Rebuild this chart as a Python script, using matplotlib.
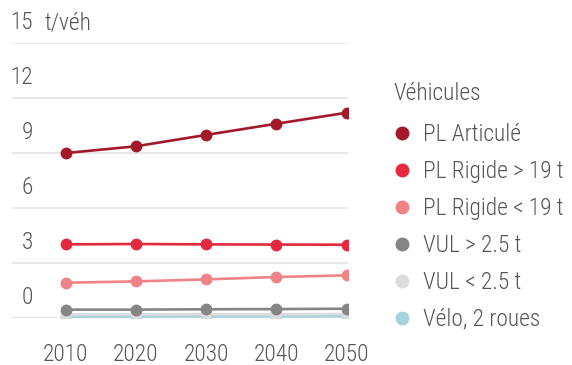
import matplotlib.pyplot as plt
import matplotlib.transforms as mtransforms
from matplotlib.lines import Line2D

plt.rcParams['font.family'] = ['Roboto Condensed', 'DejaVu Sans']
plt.rcParams['font.weight'] = 'light'

# données : poids moyen transporté par véhicule
annees = [2010, 2020, 2030, 2040, 2050]
pl_articule = [8.98, 9.35, 9.97, 10.58, 11.18]
pl_rigide_sup19 = [4.00, 4.02, 4.00, 3.99, 3.98]
pl_rigide_inf19 = [1.91, 1.98, 2.09, 2.22, 2.31]
vul_sup25 = [0.44, 0.44, 0.46, 0.47, 0.49]
vul_inf25 = [0.18, 0.18, 0.19, 0.19, 0.20]
velo = [0.06, 0.06, 0.07, 0.07, 0.08]

noms = ['PL Articulé', 'PL Rigide > 19 t', 'PL Rigide < 19 t',
        'VUL > 2.5 t', 'VUL < 2.5 t', 'Vélo, 2 roues']
series = [pl_articule, pl_rigide_sup19, pl_rigide_inf19, vul_sup25, vul_inf25, velo]
couleurs = ['#a3192b', '#e3293d', '#ef8387', '#858585', '#dcdcdc', '#a6d3dc']
yticks = [0, 3, 6, 9, 12, 15]
gris = '#555555'
fs = 16.8

fig = plt.figure(figsize=(5.72, 3.65), dpi=100)
ax = fig.add_axes([12 / 572, 1 - 317.7 / 365, (347.7 - 12) / 572, (317.7 - 42.7) / 365])

# tracer du bas vers le haut pour que les courbes foncées restent visibles
for vals, c in reversed(list(zip(series, couleurs))):
    ax.plot(annees, vals, color=c, lw=1.9, marker='o', ms=7.5, solid_capstyle='round', zorder=3)

ax.set_xlim(2002.35, 2050.15)
ax.set_ylim(0, 15)
for v in yticks:
    ax.axhline(v, color='#e6e6e6', lw=1.3, zorder=1)

# étiquettes de l'axe y au-dessus des lignes de grille
decal = mtransforms.offset_copy(ax.get_yaxis_transform(), fig=fig, x=0, y=20, units='dots')
for v in yticks:
    ax.text(0.0626, v, str(v), transform=decal, ha='right', va='center',
            fontsize=fs, color=gris)
ax.text(0.098, 15, 't/véh', transform=decal, ha='left', va='center', fontsize=fs, color=gris)

ax.set_yticks([])
ax.set_xticks(annees)
ax.set_xticklabels([str(a) for a in annees], fontsize=fs, color=gris)
ax.tick_params(axis='x', length=0, pad=18)
for s in ax.spines.values():
    s.set_visible(False)

# légende
fig.text(393 / 572, 1 - 93 / 365, 'Véhicules', ha='left', va='center', fontsize=fs, color=gris)
poignees = [Line2D([], [], ls='', marker='o', ms=9, color=c) for c in couleurs]
leg = fig.legend(poignees, noms, loc='upper left',
                 bbox_to_anchor=(392.5 / 572, 1 - 123 / 365), frameon=False,
                 fontsize=fs, labelcolor=gris, handlelength=0.8,
                 handletextpad=0.52, labelspacing=0.6, borderpad=0, borderaxespad=0)

fig.savefig('out.png', dpi=100)
